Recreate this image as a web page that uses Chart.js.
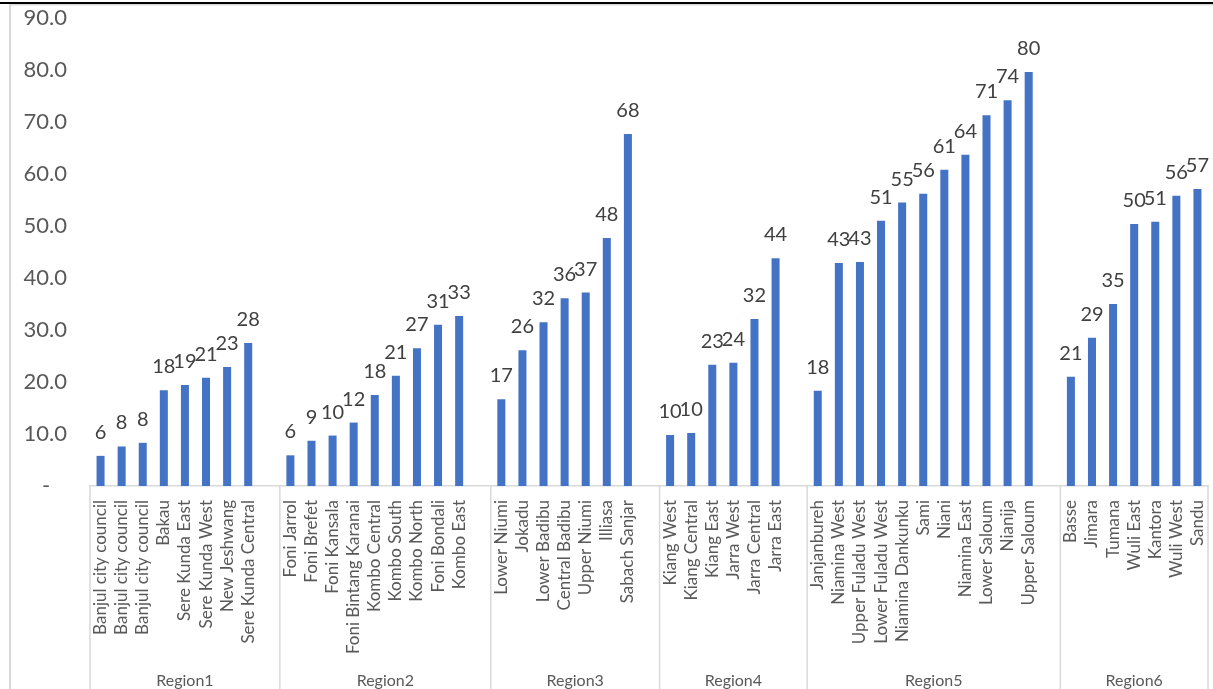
<!DOCTYPE html>
<html>
<head>
<meta charset="utf-8">
<title>Districts by region</title>
<script src="https://cdn.jsdelivr.net/npm/chart.js@4.4.1/dist/chart.umd.min.js"></script>
<style>
    html, body { margin: 0; padding: 0; background: #ffffff; }
    #wrap { position: relative; width: 1213px; height: 689px; }
</style>
</head>
<body>
<div id="wrap"><canvas id="districtChart" width="1213" height="689"></canvas></div>
<script>
// District values, one pair of arrays per region
const regionNames = ['Region1', 'Region2', 'Region3', 'Region4', 'Region5', 'Region6'];

const region1Districts = ['Banjul city council', 'Banjul city council', 'Banjul city council', 'Bakau', 'Sere Kunda East', 'Sere Kunda West', 'New Jeshwang', 'Sere Kunda Central'];
const region1Values = [5.8, 7.6, 8.3, 18.4, 19.4, 20.8, 22.9, 27.5];

const region2Districts = ['Foni Jarrol', 'Foni Brefet', 'Foni Kansala', 'Foni Bintang Karanai', 'Kombo Central', 'Kombo South', 'Kombo North', 'Foni Bondali', 'Kombo East'];
const region2Values = [5.9, 8.7, 9.7, 12.2, 17.5, 21.2, 26.5, 31.0, 32.7];

const region3Districts = ['Lower Niumi', 'Jokadu', 'Lower Badibu', 'Central Badibu', 'Upper Niumi', 'Illiasa', 'Sabach Sanjar'];
const region3Values = [16.7, 26.1, 31.5, 36.1, 37.2, 47.7, 67.7];

const region4Districts = ['Kiang West', 'Kiang Central', 'Kiang East', 'Jarra West', 'Jarra Central', 'Jarra East'];
const region4Values = [9.8, 10.2, 23.3, 23.7, 32.1, 43.8];

const region5Districts = ['Janjanbureh', 'Niamina West', 'Upper Fuladu West', 'Lower Fuladu West', 'Niamina Dankunku', 'Sami', 'Niani', 'Niamina East', 'Lower Saloum', 'Nianija', 'Upper Saloum'];
const region5Values = [18.3, 42.9, 43.1, 51.0, 54.5, 56.2, 60.8, 63.7, 71.3, 74.2, 79.6];

const region6Districts = ['Basse', 'Jimara', 'Tumana', 'Wuli East', 'Kantora', 'Wuli West', 'Sandu'];
const region6Values = [21.0, 28.5, 35.0, 50.4, 50.8, 55.8, 57.1];

const yTicks = [0, 10, 20, 30, 40, 50, 60, 70, 80, 90];

const FONT = 'Lato, "DejaVu Sans", sans-serif';
const TEXT_GREY = '#595959';
const LINE_GREY = '#d9d9d9';

// Flatten the regions into one category axis, leaving an empty slot between regions
const districtGroups = [region1Districts, region2Districts, region3Districts, region4Districts, region5Districts, region6Districts];
const valueGroups = [region1Values, region2Values, region3Values, region4Values, region5Values, region6Values];

const labels = [];
const values = [];
const groupSpans = []; // [firstSlot, slotCount] for each region
districtGroups.forEach((names, g) => {
    const start = labels.length;
    names.forEach((n, i) => {
        labels.push(n);
        values.push(valueGroups[g][i]);
    });
    if (g < districtGroups.length - 1) {
        labels.push('');
        values.push(null);
    }
    groupSpans.push([start, labels.length - start]);
});

// Frame lines around the chart
const framePlugin = {
    id: 'frame',
    beforeDraw(chart) {
        const ctx = chart.ctx;
        ctx.save();
        ctx.fillStyle = '#ffffff';
        ctx.fillRect(0, 0, chart.width, chart.height);
        ctx.fillStyle = '#000000';
        ctx.fillRect(0, 2, chart.width, 2);
        ctx.fillStyle = LINE_GREY;
        ctx.fillRect(10, 4, chart.width - 10, 1.5);
        ctx.fillRect(9, 4, 2, chart.height - 4);
        ctx.restore();
    }
};

// Value labels above each bar
const valueLabelPlugin = {
    id: 'valueLabels',
    afterDatasetsDraw(chart) {
        const ctx = chart.ctx;
        const meta = chart.getDatasetMeta(0);
        ctx.save();
        ctx.font = '20px ' + FONT;
        ctx.fillStyle = '#404040';
        ctx.textAlign = 'center';
        ctx.textBaseline = 'alphabetic';
        meta.data.forEach((bar, i) => {
            const v = values[i];
            if (v === null) return;
            ctx.fillText(String(Math.round(v)), bar.x, bar.y - 17);
        });
        ctx.restore();
    }
};

// Region separators and region names under the district labels
const regionAxisPlugin = {
    id: 'regionAxis',
    afterDraw(chart) {
        const ctx = chart.ctx;
        const x = chart.scales.x;
        const slot = (x.right - x.left) / labels.length;
        const top = x.top;
        ctx.save();
        ctx.strokeStyle = LINE_GREY;
        ctx.lineWidth = 1.5;
        groupSpans.forEach(([start, count], g) => {
            const left = x.left + start * slot;
            const right = left + count * slot;
            ctx.beginPath();
            ctx.moveTo(left, top);
            ctx.lineTo(left, chart.height);
            ctx.stroke();
            if (g === groupSpans.length - 1) {
                ctx.beginPath();
                ctx.moveTo(right, top);
                ctx.lineTo(right, chart.height);
                ctx.stroke();
            }
            ctx.font = '16px ' + FONT;
            ctx.fillStyle = TEXT_GREY;
            ctx.textAlign = 'center';
            ctx.textBaseline = 'middle';
            ctx.fillText(regionNames[g], (left + right) / 2, 681);
        });
        ctx.restore();
    }
};

// keep the plot area where the layout padding puts it
function noScalePadding(scale) {
    scale.paddingLeft = 0;
    scale.paddingRight = 0;
    scale.paddingTop = 0;
    scale.paddingBottom = 0;
}

new Chart(document.getElementById('districtChart').getContext('2d'), {
    type: 'bar',
    data: {
        labels: labels,
        datasets: [{
            data: values,
            backgroundColor: '#4472c4',
            borderWidth: 0,
            categoryPercentage: 1.0,
            barPercentage: 0.38
        }]
    },
    options: {
        responsive: false,
        animation: false,
        events: [],
        layout: { padding: { left: 10, right: 5, top: 18, bottom: 0 } },
        plugins: {
            legend: { display: false },
            tooltip: { enabled: false }
        },
        scales: {
            x: {
                offset: true,
                grid: { display: false },
                border: { display: true, color: LINE_GREY, width: 1.5 },
                ticks: {
                    autoSkip: false,
                    maxRotation: 90,
                    minRotation: 90,
                    padding: 6,
                    color: TEXT_GREY,
                    font: { family: FONT, size: 17 }
                },
                afterFit(scale) {
                    scale.height = 203;
                    noScalePadding(scale);
                }
            },
            y: {
                min: 0,
                max: 90,
                afterBuildTicks(scale) { scale.ticks = yTicks.map(v => ({ value: v })); },
                grid: { display: false, drawTicks: false },
                border: { display: false },
                ticks: {
                    padding: 23,
                    color: TEXT_GREY,
                    font: { family: FONT, size: 22 },
                    callback: (v) => v === 0 ? '-   ' : Number(v).toFixed(1)
                },
                afterFit(scale) {
                    scale.width = 80;
                    noScalePadding(scale);
                }
            }
        }
    },
    plugins: [framePlugin, valueLabelPlugin, regionAxisPlugin]
});
</script>
</body>
</html>
